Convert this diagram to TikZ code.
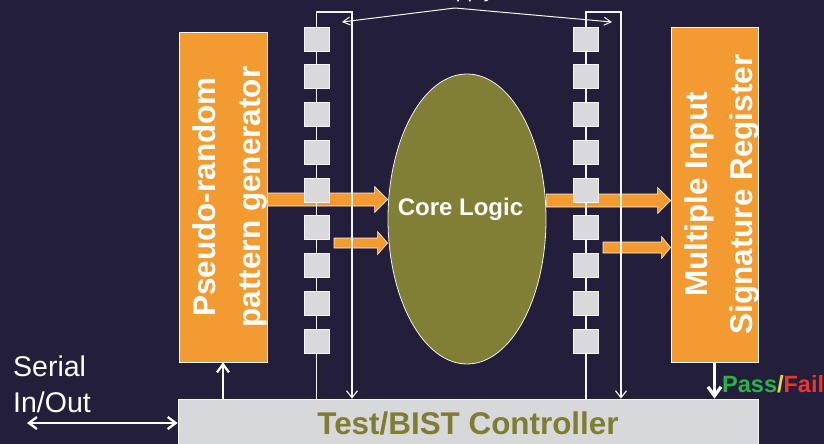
\documentclass[tikz,border=0pt]{standalone}
\usepackage{fontspec}
\setmainfont{Liberation Sans}
\usetikzlibrary{arrows.meta,shapes.geometric,calc}

\definecolor{bgnavy}{HTML}{231F3A}
\definecolor{blockorange}{HTML}{F39B30}
\definecolor{coreolive}{HTML}{817E36}
\definecolor{cellgray}{HTML}{D9D9DB}
\definecolor{ctrlgray}{HTML}{D7D8D9}
\definecolor{ctrltext}{HTML}{7F7C33}
\definecolor{passgreen}{HTML}{2BB24C}
\definecolor{slashyellow}{HTML}{E3DC3A}
\definecolor{failred}{HTML}{EE3433}

\tikzset{
  blockbox/.style={rectangle, fill=blockorange, draw=white, line width=0.8pt, inner sep=0pt},
  blocktext/.style={rotate=90, anchor=base, inner sep=0pt, text=white,
    font=\fontsize{31.5}{36}\selectfont\bfseries},
  scancell/.style={rectangle, fill=cellgray, draw=white!92!gray, line width=0.8pt,
    minimum width=25pt, minimum height=24pt, inner sep=0pt},
  wire/.style={draw=white!92!gray, line width=1.1pt},
  thinhead/.style={-{Straight Barb[length=7pt,width=11pt]}},
  fatarrowstyle/.style={fill=blockorange, draw=white!85!blockorange, line width=0.6pt},
  boldwire/.style={draw=white, line width=2.3pt},
}

% wide block arrow from the x of #1 to the x of #2, at the height of #1
% #3 shaft half-width, #4 head half-width, #5 head length
\newcommand{\fatarrow}[5]{%
  \draw[fatarrowstyle] let \p1=(#1), \p2=(#2) in
    (\x1,\y1+#3) -- (\x2-#5,\y1+#3) -- (\x2-#5,\y1+#4) -- (\x2,\y1)
    -- (\x2-#5,\y1-#4) -- (\x2-#5,\y1-#3) -- (\x1,\y1-#3) -- cycle;}

\begin{document}
\begin{tikzpicture}[x=1pt,y=-1pt]
\fill[bgnavy] (0,0) rectangle (824,444);
\useasboundingbox (0,0) rectangle (824,444);

% pattern generator and signature register
\node[blockbox, minimum width=88pt, minimum height=330pt] (gen) at (223,197) {};
\node[blockbox, minimum width=87pt, minimum height=335pt] (misr) at (714.5,194.5) {};

% core logic
\node[ellipse, fill=coreolive, draw=white!90!gray, line width=0.8pt,
      minimum width=158pt, minimum height=290pt, inner sep=0pt] (core) at (467,219) {};

% controller
\node[rectangle, fill=ctrlgray, draw=white!92!gray, line width=0.8pt, inner sep=0pt,
      minimum width=580pt, minimum height=48pt] (ctrl) at (468,423) {};

% block arrows into and out of the core
\coordinate (a1s) at ($(gen.east)+(0,2.5)$);
\coordinate (a2s) at (334,243);
\coordinate (a3s) at ($(core.east)+(0,-18.5)$);
\coordinate (a4s) at (603,247.5);
\fatarrow{a1s}{core.west |- a1s}{6.5}{13}{13}
\fatarrow{a2s}{core.west |- a2s}{5}{11.5}{10}
\fatarrow{a3s}{misr.west |- a3s}{6.5}{13}{13}
\fatarrow{a4s}{misr.west |- a4s}{5.5}{11}{9}

% scan chains with their return paths to the controller
\coordinate (tl) at (352,12);
\coordinate (tr) at (621,12);
\foreach \i in {0,...,8}{
  \coordinate (pl\i) at (316.5,{39+37.75*\i});
  \coordinate (pr\i) at (586,{39+37.75*\i});
}
\draw[wire, thinhead] (pl0 |- ctrl.north) -- (pl0 |- tl) -- (tl) -- (tl |- ctrl.north);
\draw[wire, thinhead] (pr0 |- ctrl.north) -- (pr0 |- tr) -- (tr) -- (tr |- ctrl.north);
\foreach \i in {0,...,8}{
  \node[scancell] (cl\i) at (pl\i) {};
  \node[scancell] (cr\i) at (pr\i) {};
}

% supply label at the top edge
\node[anchor=base west, inner sep=0pt, text=white, font=\fontsize{21}{24}\selectfont]
  (sup) at (430,-2.5) {Supply};
\coordinate (apex) at (455,8);
\coordinate (supl) at (342,22);
\coordinate (supr) at (612,22);
\draw[wire, line width=1pt, -{Straight Barb[length=7pt,width=8pt]}] (apex) -- (supl);
\draw[wire, line width=1pt, -{Straight Barb[length=7pt,width=8pt]}] (apex) -- (supr);

% texts
\node[blocktext] (gen1) at ($(gen.west)+(37,0)$) {Pseudo-random};
\node[blocktext] (gen2) at ($(gen.west)+(82,0)$) {pattern generator};
\node[blocktext] (misr1) at ($(misr.west)+(37,0)$) {Multiple Input};
\node[blocktext] (misr2) at ($(misr.west)+(82,0)$) {Signature Register};
\node[anchor=base, inner sep=0pt, text=white, font=\fontsize{24}{28}\selectfont\bfseries]
  (coretxt) at ($(core.center)+(-6.5,-3.5)$) {Core Logic};
\node[anchor=base, inner sep=0pt, text=ctrltext, font=\fontsize{31.4}{36}\selectfont\bfseries]
  (ctrltxt) at ($(ctrl.center)+(0,11)$) {Test/BIST Controller};

% serial port, seed path and result
\coordinate (serend) at (27,423);
\draw[boldwire, {Straight Barb[length=8pt,width=12pt]}-{Straight Barb[length=8pt,width=12pt]}]
  (serend) -- (ctrl.west);
\draw[boldwire, -{Straight Barb[length=8pt,width=12pt]}] (gen.south |- ctrl.north) -- (gen.south);
\draw[boldwire, line width=3.2pt, -{Straight Barb[length=9pt,width=13pt]}]
  (misr.south) -- (misr.south |- ctrl.north);
\node[anchor=north west, align=left, inner sep=0pt, text=white,
      font=\fontsize{28.5}{36}\selectfont] (serial) at (13,355.5) {Serial\\In/Out};
\node[anchor=base west, inner sep=0pt, font=\fontsize{23.5}{28}\selectfont\bfseries]
  (pf) at (722,392) {\textcolor{passgreen}{Pass}\textcolor{slashyellow}{/}\textcolor{failred}{Fail}};
\end{tikzpicture}
\end{document}
